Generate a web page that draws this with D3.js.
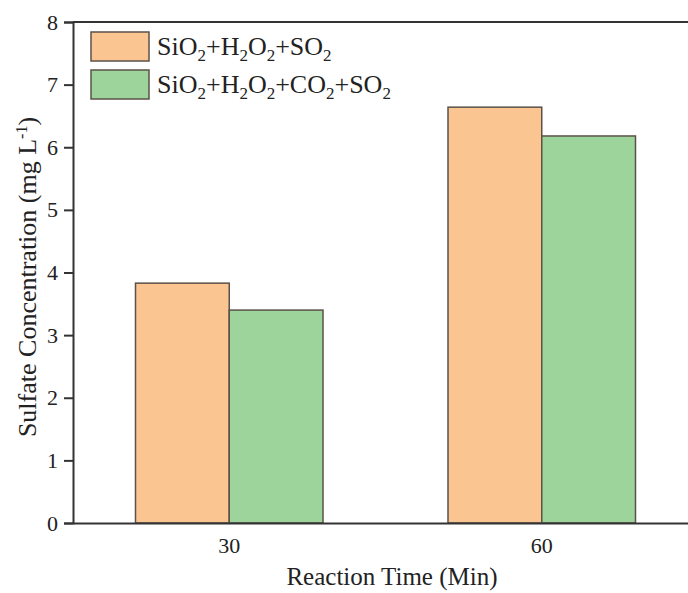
<!DOCTYPE html>
<html>
<head>
<meta charset="utf-8">
<script src="https://cdn.jsdelivr.net/npm/d3@7"></script>
<style>
  body { margin: 0; background: #fff; }
  svg { display: block; font-family: "Liberation Serif", "Times New Roman", serif; }
</style>
</head>
<body>
<div id="chart"></div>
<script>
var times = ['30', '60'];
var seriesNames = ['SiO2+H2O2+SO2', 'SiO2+H2O2+CO2+SO2'];
var sulfateNoCO2 = [3.83, 6.64];
var sulfateCO2 = [3.40, 6.18];
var yTicks = [0, 1, 2, 3, 4, 5, 6, 7, 8];
var colors = ['#fbc592', '#9dd49c'];

// legend labels with subscripts: [text, isSub]
var legendParts = [
    [['SiO', 0], ['2', 1], ['+H', 0], ['2', 1], ['O', 0], ['2', 1], ['+SO', 0], ['2', 1]],
    [['SiO', 0], ['2', 1], ['+H', 0], ['2', 1], ['O', 0], ['2', 1], ['+CO', 0], ['2', 1], ['+SO', 0], ['2', 1]]
];

var width = 688, height = 593;
var margin = {top: 22, right: -10, bottom: 70, left: 73};

var svg = d3.select('#chart').append('svg')
    .attr('width', width)
    .attr('height', height);

var x = d3.scaleBand()
    .domain(times)
    .range([margin.left, width - margin.right])
    .paddingInner(0.4)
    .paddingOuter(0.2);

var x1 = d3.scaleBand()
    .domain([0, 1])
    .range([0, x.bandwidth()]);

var y = d3.scaleLinear()
    .domain([0, 8])
    .range([height - margin.bottom, margin.top]);

var rows = times.map(function(t, i) {
    return {time: t, values: [sulfateNoCO2[i], sulfateCO2[i]]};
});

// bars
var groups = svg.selectAll('g.grp')
    .data(rows)
    .enter().append('g')
    .attr('class', 'grp')
    .attr('transform', function(d) { return 'translate(' + x(d.time) + ',0)'; });

groups.selectAll('rect')
    .data(function(d) { return d.values; })
    .enter().append('rect')
    .attr('x', function(d, i) { return x1(i); })
    .attr('y', function(d) { return y(d); })
    .attr('width', x1.bandwidth())
    .attr('height', function(d) { return y(0) - y(d); })
    .attr('fill', function(d, i) { return colors[i]; })
    .attr('stroke', '#5b5148')
    .attr('stroke-width', 1.5);

// top frame line
svg.append('line')
    .attr('x1', margin.left)
    .attr('x2', width)
    .attr('y1', y(8))
    .attr('y2', y(8))
    .attr('stroke', '#333')
    .attr('stroke-width', 2);

// y axis
var yAxis = svg.append('g')
    .attr('transform', 'translate(' + margin.left + ',0)')
    .call(d3.axisLeft(y).tickValues(yTicks).tickSize(9).tickPadding(6).tickFormat(d3.format('d')));
yAxis.select('.domain').attr('stroke', '#333').attr('stroke-width', 2);
yAxis.selectAll('.tick line').attr('stroke', '#333').attr('stroke-width', 2);
yAxis.selectAll('.tick text')
    .attr('font-size', 22)
    .attr('font-family', '"Liberation Serif", serif')
    .attr('fill', '#222');

// x axis
var xAxis = svg.append('g')
    .attr('transform', 'translate(0,' + y(0) + ')')
    .call(d3.axisBottom(x).tickSize(0).tickPadding(14));
xAxis.select('.domain').attr('stroke', '#333').attr('stroke-width', 2);
xAxis.selectAll('.tick text')
    .attr('font-size', 22)
    .attr('font-family', '"Liberation Serif", serif')
    .attr('fill', '#222');

// axis titles
svg.append('text')
    .attr('x', 392)
    .attr('y', 585)
    .attr('text-anchor', 'middle')
    .attr('font-size', 25)
    .attr('fill', '#222')
    .text('Reaction Time (Min)');

var yt = svg.append('text')
    .attr('transform', 'translate(36,' + 277 + ') rotate(-90)')
    .attr('text-anchor', 'middle')
    .attr('font-size', 26)
    .attr('fill', '#222');
yt.append('tspan').text('Sulfate Concentration (mg L');
yt.append('tspan').attr('dy', -9).attr('font-size', 16).text('-1');
yt.append('tspan').attr('dy', 9).text(')');

// legend
var legend = svg.selectAll('g.leg')
    .data(seriesNames)
    .enter().append('g')
    .attr('class', 'leg')
    .attr('transform', function(d, i) { return 'translate(91,' + (32 + i * 38) + ')'; });

legend.append('rect')
    .attr('width', 58)
    .attr('height', 29)
    .attr('fill', function(d, i) { return colors[i]; })
    .attr('stroke', '#5b5148')
    .attr('stroke-width', 1.5);

legend.append('text')
    .attr('x', 66)
    .attr('y', 23)
    .attr('font-size', 26)
    .attr('fill', '#222')
    .each(function(d, i) {
        var t = d3.select(this);
        legendParts[i].forEach(function(p, k) {
            var prevSub = k > 0 && legendParts[i][k - 1][1];
            var ts = t.append('tspan').text(p[0]);
            if (p[1]) ts.attr('dy', 6).attr('font-size', 17);
            else if (prevSub) ts.attr('dy', -6);
        });
    });
</script>
</body>
</html>
